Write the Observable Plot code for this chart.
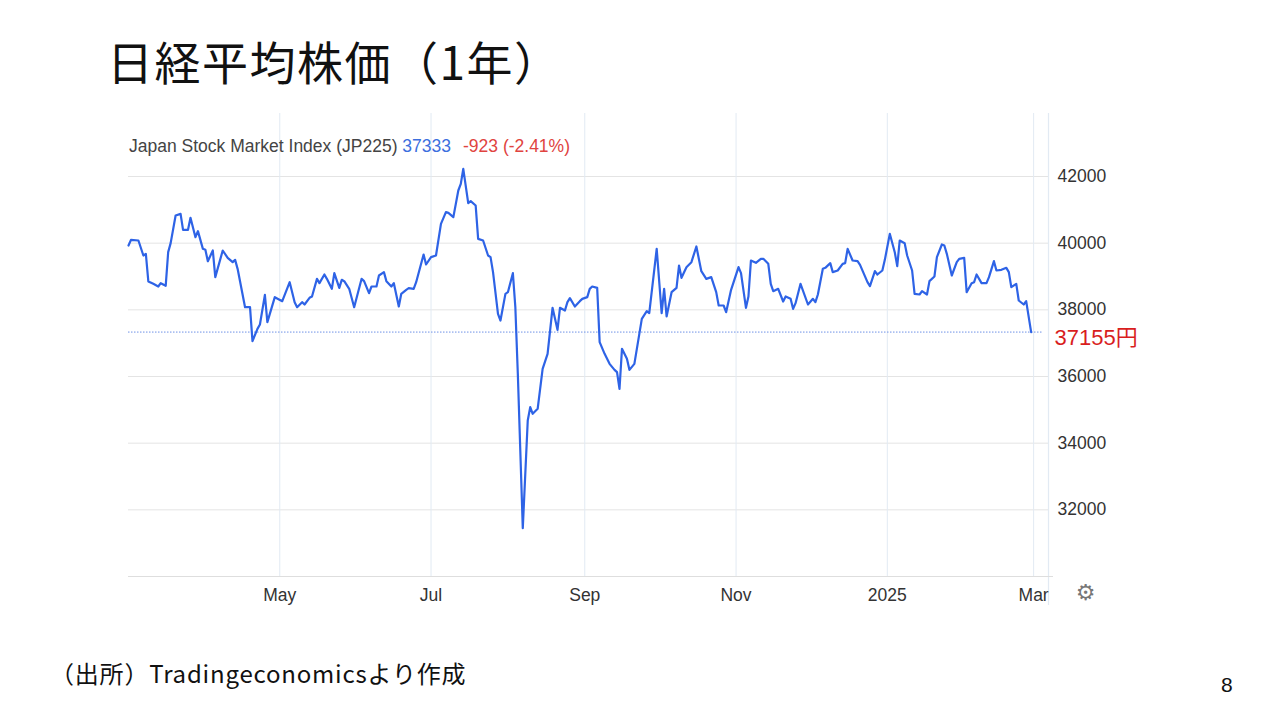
<!DOCTYPE html>
<html>
<head>
<meta charset="utf-8">
<script src="https://cdn.jsdelivr.net/npm/d3@7"></script>
<script src="https://cdn.jsdelivr.net/npm/@observablehq/plot@0.6"></script>
<style>
  html, body { margin: 0; padding: 0; background: #fff; }
  #page { position: relative; width: 1280px; height: 720px; overflow: hidden; background: #fff; }
  #chart { position: absolute; left: 0; top: 0; }
  .title { position: absolute; left: 107px; top: 37px; font-family: "Noto Sans CJK JP", sans-serif; font-size: 46px; line-height: 46px; letter-spacing: 1.5px; color: #111; font-weight: 400; white-space: nowrap; }
  .legend { position: absolute; left: 129px; top: 135px; font-family: "Liberation Sans", Arial, sans-serif; font-size: 17.5px; line-height: 22px; color: #444; white-space: nowrap; }
  .legend .last { color: #3c6fde; }
  .legend .chg { color: #e0443f; margin-left: 12px; }
  .caption { position: absolute; left: 50px; top: 659px; font-family: "Noto Sans CJK JP", sans-serif; font-size: 24px; line-height: 28px; letter-spacing: 0.8px; color: #111; white-space: nowrap; }
  .pagenum { position: absolute; left: 1221px; top: 673px; font-family: "Liberation Sans", Arial, sans-serif; font-size: 21px; line-height: 24px; color: #111; }
</style>
</head>
<body>
<div id="page">
  <div id="chart"></div>
  <div class="title">日経平均株価（1年）</div>
  <div class="legend">Japan Stock Market Index (JP225) <span class="last">37333</span><span class="chg">-923 (-2.41%)</span></div>
  <div class="caption">（出所）Tradingeconomicsより作成</div>
  <div class="pagenum">8</div>
</div>
<script>
const dates = [
"2024-03-01","2024-03-02","2024-03-05","2024-03-07","2024-03-08","2024-03-09","2024-03-11","2024-03-13","2024-03-14","2024-03-16",
"2024-03-17","2024-03-18","2024-03-20","2024-03-22","2024-03-23","2024-03-25","2024-03-26","2024-03-28","2024-03-29","2024-03-31",
"2024-04-01","2024-04-02","2024-04-04","2024-04-05","2024-04-08","2024-04-10","2024-04-12","2024-04-13","2024-04-14","2024-04-17",
"2024-04-19","2024-04-20","2024-04-22","2024-04-23","2024-04-25","2024-04-26","2024-04-29","2024-05-02","2024-05-05","2024-05-07",
"2024-05-08","2024-05-10","2024-05-11","2024-05-13","2024-05-14","2024-05-16","2024-05-17","2024-05-19","2024-05-20","2024-05-22",
"2024-05-23","2024-05-25","2024-05-26","2024-05-27","2024-05-29","2024-05-31","2024-06-03","2024-06-04","2024-06-06","2024-06-07",
"2024-06-09","2024-06-10","2024-06-12","2024-06-13","2024-06-15","2024-06-16","2024-06-18","2024-06-19","2024-06-21","2024-06-22",
"2024-06-24","2024-06-25","2024-06-28","2024-06-29","2024-07-01","2024-07-03","2024-07-05","2024-07-07","2024-07-08","2024-07-10",
"2024-07-12","2024-07-13","2024-07-14","2024-07-16","2024-07-17","2024-07-19","2024-07-20","2024-07-22","2024-07-24","2024-07-25",
"2024-07-26","2024-07-28","2024-07-29","2024-07-31","2024-08-01","2024-08-03","2024-08-04","2024-08-05","2024-08-07","2024-08-09",
"2024-08-10","2024-08-11","2024-08-13","2024-08-15","2024-08-17","2024-08-19","2024-08-21","2024-08-22","2024-08-24","2024-08-25",
"2024-08-26","2024-08-28","2024-08-30","2024-08-31","2024-09-02","2024-09-03","2024-09-04","2024-09-06","2024-09-07","2024-09-09",
"2024-09-11","2024-09-13","2024-09-14","2024-09-15","2024-09-16","2024-09-18","2024-09-19","2024-09-21","2024-09-23","2024-09-24",
"2024-09-26","2024-09-27","2024-09-30","2024-10-02","2024-10-03","2024-10-04","2024-10-06","2024-10-08","2024-10-09","2024-10-10",
"2024-10-12","2024-10-14","2024-10-16","2024-10-18","2024-10-20","2024-10-22","2024-10-24","2024-10-25","2024-10-27","2024-10-28",
"2024-10-30","2024-11-02","2024-11-03","2024-11-05","2024-11-06","2024-11-07","2024-11-09","2024-11-11","2024-11-12","2024-11-14",
"2024-11-15","2024-11-16","2024-11-18","2024-11-20","2024-11-21","2024-11-23","2024-11-24","2024-11-25","2024-11-27","2024-11-30",
"2024-12-02","2024-12-03","2024-12-04","2024-12-06","2024-12-07","2024-12-09","2024-12-10","2024-12-12","2024-12-14","2024-12-15",
"2024-12-16","2024-12-18","2024-12-20","2024-12-21","2024-12-24","2024-12-25","2024-12-27","2024-12-28","2024-12-30","2024-12-31",
"2025-01-02","2025-01-04","2025-01-05","2025-01-06","2025-01-08","2025-01-09","2025-01-11","2025-01-12","2025-01-14","2025-01-15",
"2025-01-17","2025-01-18","2025-01-20","2025-01-21","2025-01-23","2025-01-24","2025-01-25","2025-01-27","2025-01-29","2025-01-30",
"2025-02-01","2025-02-02","2025-02-04","2025-02-05","2025-02-06","2025-02-08","2025-02-10","2025-02-11","2025-02-13","2025-02-14",
"2025-02-16","2025-02-18","2025-02-19","2025-02-20","2025-02-22","2025-02-23","2025-02-25","2025-02-26","2025-02-28"
];
const values = [
39930,40100,40080,39630,39680,38850,38780,38700,38800,38720,
39730,40000,40830,40880,40400,40400,40760,40180,40360,39830,
39800,39460,39780,38980,39780,39560,39430,39500,39230,38080,
38080,37060,37430,37560,38450,37630,38380,38260,38830,38230,
38080,38230,38160,38360,38400,38930,38800,39060,38930,38630,
39100,38660,38900,38860,38630,38080,38930,38860,38500,38700,
38700,39030,39130,38860,38700,38800,38100,38480,38600,38650,
38630,38830,39660,39360,39580,39630,40580,40930,40910,40780,
41580,41780,42230,41200,41260,41130,40130,40080,39630,39580,
39130,37880,37680,38480,38530,39100,38080,36080,31450,34680,
35080,34880,35030,36230,36680,38060,37400,38060,37980,38230,
38350,38100,38260,38330,38380,38630,38700,38660,37030,36680,
36380,36200,36130,35630,36830,36530,36200,36380,37280,37730,
37960,37900,39830,37900,38630,37800,38530,38660,39330,38960,
39280,39430,39900,39160,38930,38980,38530,38130,38130,37930,
38600,39280,39100,38060,38400,39480,39410,39530,39530,39380,
38780,38560,38630,38250,38400,38330,38030,38200,38780,38160,
38330,38230,38460,39230,39260,39400,39130,39180,39380,39400,
39830,39480,39460,39350,38830,38710,39160,39060,39180,39500,
40280,39730,39310,40080,40000,39630,39180,38480,38460,38560,
38460,38860,39000,39580,39960,39930,39680,39030,39430,39530,
39560,38530,38800,38830,39060,38800,38800,38980,39460,39180,
39200,39260,39130,38680,38780,38280,38160,38260,37333
];
const lastValue = 37333;
const markerValue = 37155;
const markerLabel = "37155円";
const yTicks = [32000, 34000, 36000, 38000, 40000, 42000];
const xTickDates = ["2024-05-01","2024-07-01","2024-09-01","2024-11-01","2025-01-01","2025-03-01"];
const xTickLabels = ["May","Jul","Sep","Nov","2025","Mar"];
const xDomain = ["2024-03-01","2025-03-07"];
const yDomain = [30000, 43890];

const parse = d3.utcParse("%Y-%m-%d");
const series = dates.map((d, i) => ({date: parse(d), value: values[i]}));
const xTicks = xTickDates.map(parse);
const labelOf = new Map(xTicks.map((d, i) => [+d, xTickLabels[i]]));
const xEnd = parse(xDomain[1]);

const chart = Plot.plot({
  width: 1280,
  height: 620,
  marginLeft: 128,
  marginRight: 232,
  marginTop: 113,
  marginBottom: 44,
  style: {fontFamily: "'Liberation Sans', Arial, 'Noto Sans CJK JP', sans-serif", background: "transparent", overflow: "visible"},
  x: {type: "utc", domain: xDomain.map(parse)},
  y: {domain: yDomain},
  marks: [
    Plot.ruleY(yTicks, {stroke: "#e4e4e4", strokeWidth: 1}),
    Plot.ruleX(xTicks, {stroke: "#e2eaf3", strokeWidth: 1}),
    Plot.ruleX([xEnd], {stroke: "#e2eaf3", strokeWidth: 1.2, insetBottom: -29}),
    Plot.ruleY([yDomain[0]], {stroke: "#dedede", strokeWidth: 1, insetRight: -5}),
    Plot.ruleY([lastValue], {stroke: "#6f92e6", strokeWidth: 1, strokeDasharray: "1.5,1.5", insetRight: 5}),
    Plot.lineY(series, {x: "date", y: "value", stroke: "#2e63e6", strokeWidth: 2.2, strokeLinejoin: "round"}),
    Plot.axisY({anchor: "right", ticks: yTicks, tickSize: 0, tickPadding: 9, fontSize: 17.5, color: "#333", tickFormat: d => String(d), label: null}),
    Plot.axisX({ticks: xTicks, tickSize: 0, tickPadding: 12, fontSize: 17.5, color: "#333", tickFormat: d => labelOf.get(+d), label: null}),
    Plot.text([markerLabel], {x: () => xEnd, y: () => markerValue, text: d => d, textAnchor: "start", dx: 6, fill: "#d91e1e", fontSize: 22, stroke: "white", strokeWidth: 6, paintOrder: "stroke"}),
    Plot.text(["⚙"], {x: () => xEnd, y: () => yDomain[0], text: d => d, dx: 37, dy: 16, fill: "#777", fontSize: 22, fontFamily: "DejaVu Sans"})
  ]
});
document.getElementById("chart").appendChild(chart);
</script>
</body>
</html>
